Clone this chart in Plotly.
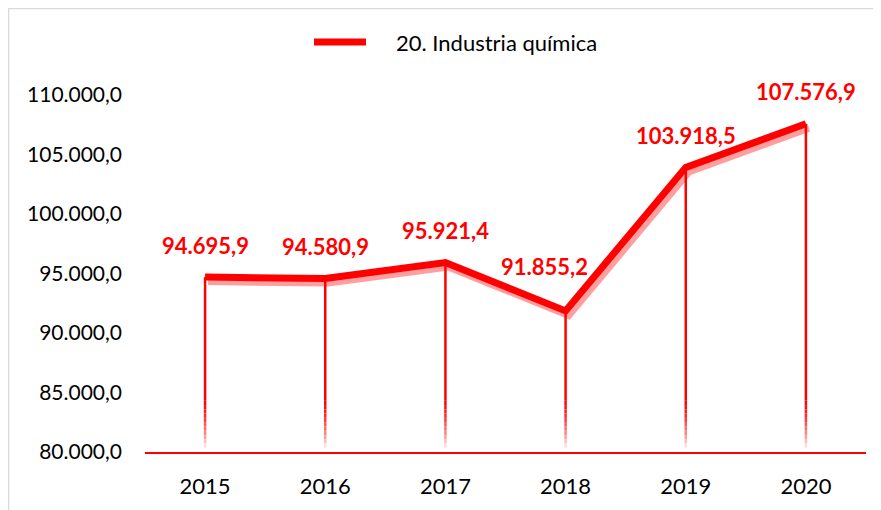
import plotly.graph_objects as go

years = ["2015", "2016", "2017", "2018", "2019", "2020"]
values = [94695.9, 94580.9, 95921.4, 91855.2, 103918.5, 107576.9]
series_name = "20. Industria química"
y_ticks = [80000, 85000, 90000, 95000, 100000, 105000, 110000]

# label offsets (style)
label_dx = [0, 0, 0, -21, 0, 0]
label_dy = [32, 32, 32, 44, 32, 32]

# page has an 8px body margin -> figure drawn 8px lower/right
OFF = 8
W_PX, H_PX = 881 - OFF, 510 - OFF
L, R, T, B = 145 - OFF, 15, 95 - OFF, 58
W = W_PX - L - R
H = H_PX - T - B
Y0, Y1 = 80000, 110000
X0, X1 = -0.5, len(years) - 0.5
DX_PX, DY_PX = 3, 4  # shadow offset in px
dx_u = DX_PX * (X1 - X0) / W
dy_u = DY_PX * (Y1 - Y0) / H

RED = "#FF0000"
FONT = "Lato"
xs = list(range(len(years)))


def px_x(p):
    return (p - OFF - L) / W


def px_y(p):
    return (T + H - (p - OFF)) / H


def fmt(v):
    s = f"{v:,.1f}"
    return s.replace(",", "X").replace(".", ",").replace("X", ".")


fig = go.Figure()

fig.add_trace(go.Scatter(
    x=[x + dx_u for x in xs], y=[v - dy_u for v in values], mode="lines",
    line=dict(color="rgba(255,0,0,0.38)", width=8),
    showlegend=False, hoverinfo="skip",
))
fig.add_trace(go.Scatter(
    x=xs, y=values, mode="lines", name=series_name,
    line=dict(color=RED, width=7), showlegend=False,
))

shapes = []
fade_top = 84300
n_fade = 12
for x, v in zip(xs, values):
    shapes.append(dict(type="line", xref="x", yref="y", x0=x, x1=x,
                       y0=fade_top, y1=v, line=dict(color=RED, width=2.5), layer="above"))
    for k in range(n_fade):
        ya = fade_top - (fade_top - Y0) * k / n_fade
        yb = fade_top - (fade_top - Y0) * (k + 1) / n_fade
        t = (k + 1) / n_fade
        g = int(255 * t ** 1.6)
        shapes.append(dict(type="line", xref="x", yref="y", x0=x, x1=x,
                           y0=yb, y1=ya, line=dict(color=f"rgb(255,{g},{g})", width=2.5),
                           layer="above"))

# light gray frame
shapes.append(dict(type="rect", xref="paper", yref="paper",
                   x0=px_x(8.5), x1=px_x(900), y0=px_y(530), y1=px_y(8.6),
                   line=dict(color="#d9d9d9", width=1.5), layer="below"))
# legend sample line
shapes.append(dict(type="line", xref="paper", yref="paper",
                   x0=px_x(314), x1=px_x(366), y0=px_y(42), y1=px_y(42),
                   line=dict(color=RED, width=7)))

annotations = [dict(
    x=px_x(394), y=px_y(42), xref="paper", yref="paper", text=series_name,
    showarrow=False, xanchor="left", yanchor="middle",
    font=dict(family=FONT, size=22, color="black"),
)]
for x, v, dx, dy in zip(xs, values, label_dx, label_dy):
    annotations.append(dict(
        x=x, y=v, xref="x", yref="y", text="<b>" + fmt(v) + "</b>", showarrow=False,
        xshift=dx, yshift=dy, xanchor="center", yanchor="middle",
        font=dict(family=FONT, size=22, color=RED),
    ))

fig.update_layout(
    width=W_PX, height=H_PX,
    margin=dict(l=L, r=R, t=T, b=B, pad=0, autoexpand=False),
    paper_bgcolor="white", plot_bgcolor="white",
    separators=",.",
    font=dict(family=FONT, size=21, color="black"),
    shapes=shapes, annotations=annotations,
    showlegend=False,
    xaxis=dict(range=[X0, X1], tickvals=xs, ticktext=years,
               showline=True, linecolor=RED, linewidth=2,
               showgrid=False, zeroline=False, ticks="",
               ticklabelstandoff=14, fixedrange=True,
               tickfont=dict(family=FONT, size=22, color="black")),
    yaxis=dict(range=[Y0, Y1], tickvals=y_ticks, tickformat=",.1f",
               showline=False, showgrid=False, zeroline=False, ticks="",
               ticklabelstandoff=22, fixedrange=True,
               tickfont=dict(family=FONT, size=21, color="black")),
)

fig.write_html("out.html")
